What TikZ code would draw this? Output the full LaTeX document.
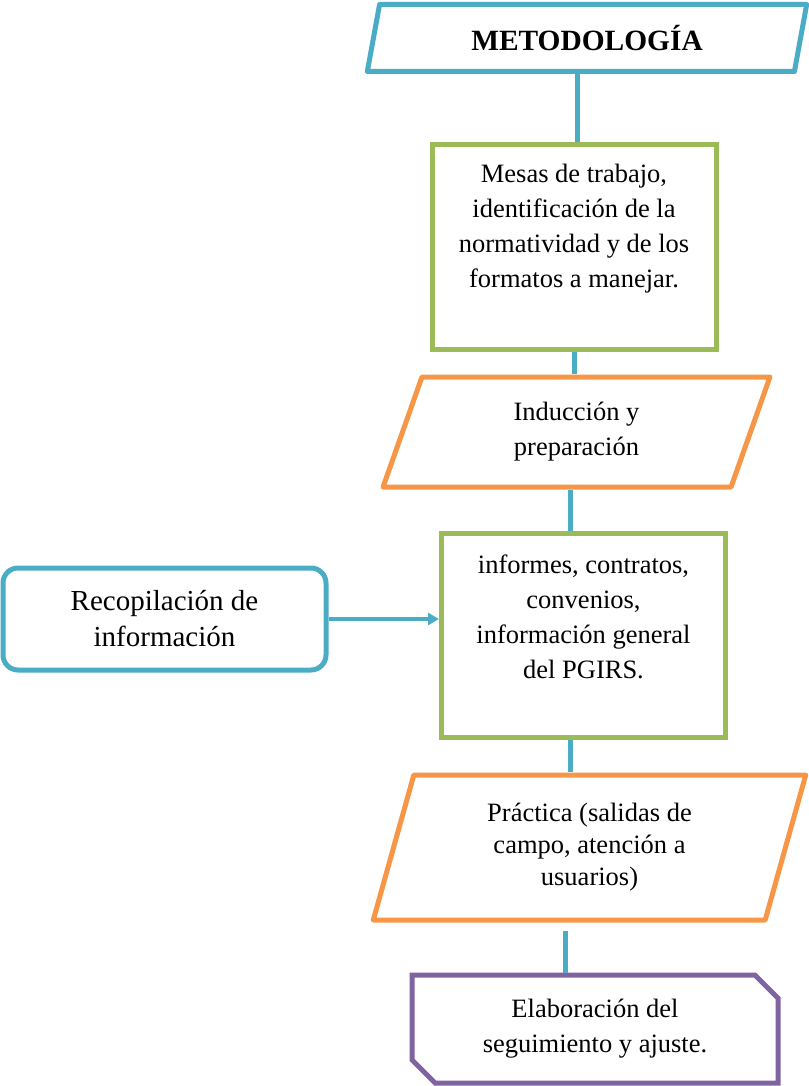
\documentclass[tikz,border=0pt]{standalone}
\usepackage{fontspec}
\setmainfont{Liberation Serif}
\usetikzlibrary{shapes.geometric,shapes.misc,arrows.meta}
\definecolor{cyanline}{HTML}{4BACC6}
\definecolor{greenline}{HTML}{9BBB59}
\definecolor{orangeline}{HTML}{F79646}
\definecolor{purpleline}{HTML}{8064A2}
\tikzset{
  slantbox/.style={trapezium, trapezium left angle=75, trapezium right angle=105,
    trapezium stretches=true, draw=#1, line width=5pt, line join=round, inner sep=0pt},
  greenbox/.style={rectangle, draw=greenline, line width=5pt,
    minimum width=284pt, minimum height=204pt},
  txt/.style={align=center, font=\fontsize{26.5}{35}\selectfont},
  link/.style={draw=cyanline, line width=5pt},
}
\begin{document}
\begin{tikzpicture}[x=1pt,y=-1pt]
  \useasboundingbox (0,0) rectangle (808,1086);
  \node[slantbox=cyanline, minimum width=440pt, minimum height=67pt,
    font=\fontsize{29.4}{34}\selectfont\bfseries] (title) at (587,38) {METODOLOGÍA};
  \node[greenbox, label={[txt, yshift=18pt]center:{Mesas de trabajo,\\ identificación de la\\
    normatividad y de los\\ formatos a manejar.}}] (mesas) at (574,247) {};
  \node[slantbox=orangeline, minimum width=387pt, minimum height=110pt, txt]
    (induccion) at (576.5,432) {Inducción y\\ preparación};
  \node[greenbox, label={[txt, yshift=18pt]center:{informes, contratos,\\ convenios,\\
    información general\\ del PGIRS.}}] (informes) at (583.5,635) {};
  \node[draw=cyanline, line width=5pt, rounded corners=15pt, minimum width=323pt,
    minimum height=102pt, align=center, font=\fontsize{29}{36}\selectfont]
    (recop) at (164.5,619) {Recopilación de\\ información};
  \node[slantbox=orangeline, minimum width=433pt, minimum height=145pt, txt,
    font=\fontsize{26.5}{32}\selectfont]
    (practica) at (589.5,847.5) {Práctica (salidas de\\ campo, atención a\\ usuarios)};
  \node[chamfered rectangle, chamfered rectangle corners={north east,south west},
    chamfered rectangle xsep=20pt, draw=purpleline, line width=5pt,
    minimum width=366pt, minimum height=108pt, txt]
    (elab) at (595,1029) {Elaboración del\\ seguimiento y ajuste.};
  % connectors
  \draw[link] ([xshift=3pt]mesas.north) -- ([xshift=3pt]mesas.north |- title.south);
  \draw[link] (mesas.south) -- (mesas.south |- induccion.north);
  \draw[link] ([xshift=-6pt]induccion.south) -- ([xshift=-6pt]induccion.south |- informes.north);
  \draw[link] ([xshift=-13pt]informes.south) -- ([xshift=-13pt]informes.south |- practica.north);
  \draw[link, shorten >=8pt] ([xshift=-30pt]elab.north) -- ([xshift=-30pt]elab.north |- practica.south);
  \draw[link, line width=4pt, -{Triangle[length=11pt,width=12pt]}]
    (recop.east) -- (recop.east -| informes.west);
\end{tikzpicture}
\end{document}
